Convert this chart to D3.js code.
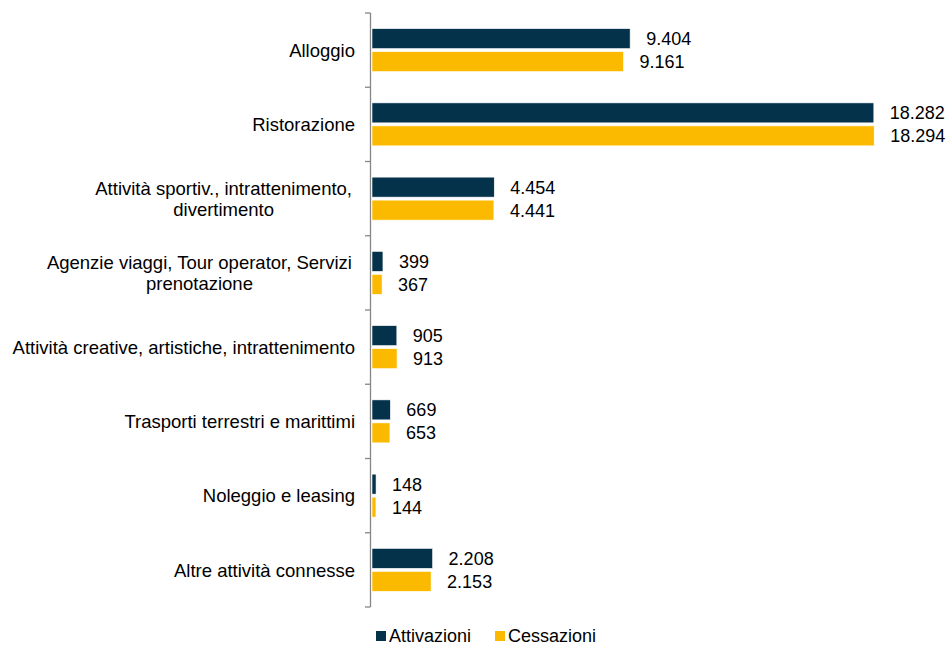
<!DOCTYPE html>
<html><head><meta charset="utf-8">
<script src="https://cdn.jsdelivr.net/npm/d3@7"></script>
<style>body{margin:0;background:#fff}svg{display:block}text{font-family:"Liberation Sans",Arial,sans-serif}</style>
</head><body>
<svg id="chart" width="949" height="646"></svg>
<script>
const categories = [
  ["Alloggio"],
  ["Ristorazione"],
  ["Attività sportiv., intrattenimento,", "divertimento"],
  ["Agenzie viaggi, Tour operator, Servizi", "prenotazione"],
  ["Attività creative, artistiche, intrattenimento"],
  ["Trasporti terrestri e marittimi"],
  ["Noleggio e leasing"],
  ["Altre attività connesse"]
];
const seriesNames = ["Attivazioni", "Cessazioni"];
const attivazioni = [9404, 18282, 4454, 399, 905, 669, 148, 2208];
const cessazioni = [9161, 18294, 4441, 367, 913, 653, 144, 2153];
const colors = ["#04324B", "#FBBA00"];

const svg = d3.select("#chart");
const fmt = v => d3.format(",")(v).replace(/,/g, ".");
const idx = d3.range(categories.length);

const y = d3.scaleBand().domain(idx).range([13, 607]).paddingInner(0).paddingOuter(0);
const x = d3.scaleLinear().domain([0, 20000]).range([372, 921]);

// axis line and ticks
const axisX = 370.5;
svg.append("line").attr("x1", axisX).attr("x2", axisX).attr("y1", 13).attr("y2", 607)
  .attr("stroke", "#868686").attr("stroke-width", 1.3);
const bounds = idx.map(i => y(i)).concat([607]);
svg.selectAll(".tick").data(bounds).enter().append("line")
  .attr("x1", 365).attr("x2", axisX).attr("y1", d => d).attr("y2", d => d)
  .attr("stroke", "#868686").attr("stroke-width", 1.3);

const barH = 20, gap = 3;
const series = [attivazioni, cessazioni];
series.forEach((vals, s) => {
  const g = svg.append("g");
  idx.forEach(i => {
    const c = y(i) + y.bandwidth() / 2;
    const top = s === 0 ? c - gap / 2 - barH : c + gap / 2;
    g.append("rect").attr("x", x(0)).attr("y", top)
      .attr("width", x(vals[i]) - x(0)).attr("height", barH)
      .attr("fill", colors[s]).attr("stroke", "#fff").attr("stroke-width", 0.6);
    g.append("text").attr("x", x(vals[i]) + 16).attr("y", top + barH / 2)
      .attr("dy", "0.36em").attr("font-size", 18).attr("fill", "#000")
      .text(fmt(vals[i]));
  });
});

// category labels
const catFont = 18.5;
idx.forEach(i => {
  const lines = categories[i];
  const c = y(i) + y.bandwidth() / 2;
  const lh = 21;
  const t = svg.append("text").attr("font-size", catFont).attr("fill", "#000");
  const widths = lines.map(l => {
    const n = svg.append("text").attr("font-size", catFont).text(l);
    const w = n.node().getComputedTextLength(); n.remove(); return w;
  });
  const maxW = d3.max(widths);
  const right = lines.length > 1 ? 352 : 355;
  const cx = right - maxW / 2;
  lines.forEach((l, k) => {
    t.append("tspan").attr("x", cx).attr("text-anchor", "middle")
      .attr("y", c + (k - (lines.length - 1) / 2) * lh).attr("dy", "0.36em").text(l);
  });
});

// legend
const leg = [{x: 376, t: 389}, {x: 495, t: 508}];
seriesNames.forEach((n, s) => {
  svg.append("rect").attr("x", leg[s].x).attr("y", 631).attr("width", 10).attr("height", 10).attr("fill", colors[s]);
  svg.append("text").attr("x", leg[s].t).attr("y", 642)
    .attr("font-size", 18).attr("fill", "#000").text(n);
});
</script>
</body></html>
